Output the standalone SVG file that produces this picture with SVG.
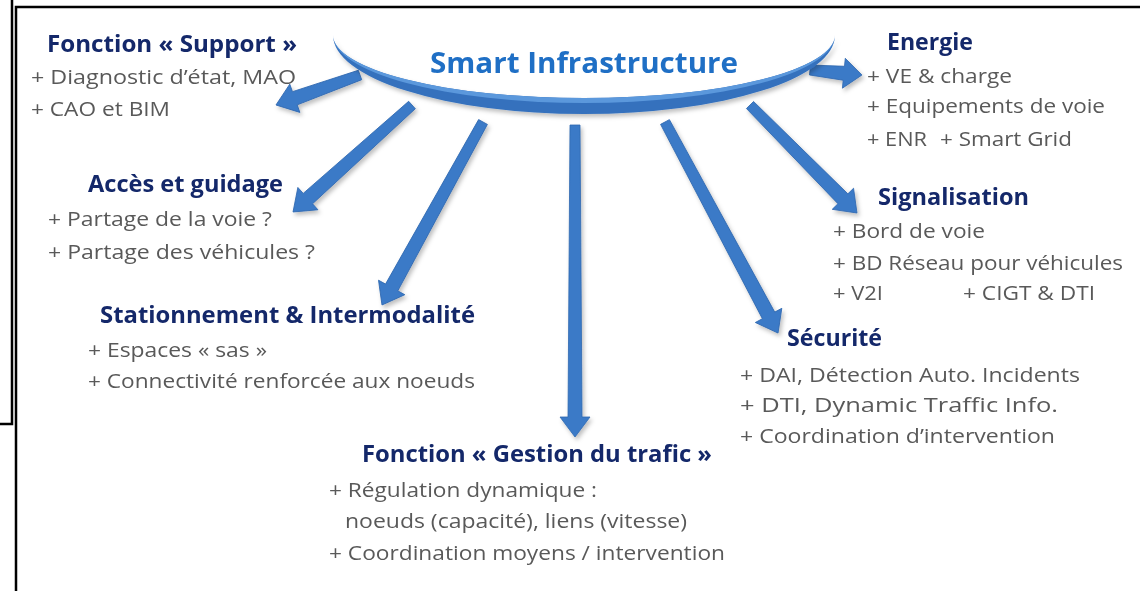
<svg xmlns="http://www.w3.org/2000/svg" width="1140" height="591" viewBox="0 0 1140 591">
<style>
.h{font-family:"Open Sans","Liberation Sans",sans-serif;font-weight:bold;font-size:22.5px;fill:#14286a}
.b{font-family:"Open Sans","Liberation Sans",sans-serif;font-size:20px;fill:#595959}
.t{font-family:"Open Sans","Liberation Sans",sans-serif;font-weight:bold;font-size:28.5px;fill:#1f6fc5}
.arr{fill:#3b7ac7;stroke:#2f68b0;stroke-width:0.8}
.frame{fill:none;stroke:#000;stroke-width:2.5}
</style>
<defs>
<filter id="sh" x="-20%" y="-20%" width="140%" height="140%">
<feDropShadow dx="2" dy="3" stdDeviation="2" flood-color="#000" flood-opacity="0.25"/>
</filter>
</defs>
<rect width="1140" height="591" fill="#fff"/>
<path class="frame" d="M12,0 V424 H0"/>
<path class="frame" d="M1141,7 H16 V592"/>

<g id="connectors" filter="url(#sh)">
<path class="arr" transform="translate(360,75) rotate(160.35)" d="M0,-5 L69.2,-7 L69.2,-15 L89.2,0 L69.2,15 L69.2,7 L0,5 Z"/>
<path class="arr" transform="translate(412,105) rotate(138.04)" d="M0,-5 L140,-7 L140,-15 L160,0 L140,15 L140,7 L0,5 Z"/>
<path class="arr" transform="translate(483,122) rotate(118.9)" d="M0,-5 L189,-7 L189,-15 L209,0 L189,15 L189,7 L0,5 Z"/>
<path class="arr" transform="translate(575,125) rotate(90)" d="M0,-5 L292,-7 L292,-15 L312,0 L292,15 L292,7 L0,5 Z"/>
<path class="arr" transform="translate(665,122) rotate(61.83)" d="M0,-5 L219.4,-7 L219.4,-15 L239.4,0 L219.4,15 L219.4,7 L0,5 Z"/>
<path class="arr" transform="translate(750,105) rotate(45.27)" d="M0,-5 L132,-7 L132,-15 L152,0 L132,15 L132,7 L0,5 Z"/>
<path class="arr" transform="translate(810,70) rotate(5.49)" d="M0,-5 L34,-7 L34,-15 L52.2,0 L34,15 L34,7 L0,5 Z"/>
</g>

<g id="hub">
<path d="M333,35 A251,63 0 0 0 835,35 A251,79 0 0 1 333,35 Z" fill="#3571bd" filter="url(#sh)"/>
<path d="M333,35 A251,63 0 0 0 835,35 A251,68 0 0 1 333,35 Z" fill="#5b98dc"/>
<text class="t" x="430" y="73" textLength="308" lengthAdjust="spacingAndGlyphs">Smart Infrastructure</text>
</g>

<g id="support">
<text class="h" x="47" y="52" textLength="250" lengthAdjust="spacingAndGlyphs">Fonction « Support »</text>
<text class="b" x="31" y="84" textLength="265" lengthAdjust="spacingAndGlyphs">+ Diagnostic d’état, MAO</text>
<text class="b" x="31" y="116" textLength="139" lengthAdjust="spacingAndGlyphs">+ CAO et BIM</text>
</g>

<g id="acces">
<text class="h" x="88" y="192" textLength="195" lengthAdjust="spacingAndGlyphs">Accès et guidage</text>
<text class="b" x="48" y="226" textLength="224" lengthAdjust="spacingAndGlyphs">+ Partage de la voie ?</text>
<text class="b" x="48" y="259" textLength="267" lengthAdjust="spacingAndGlyphs">+ Partage des véhicules ?</text>
</g>

<g id="stationnement">
<text class="h" x="100" y="323" textLength="375" lengthAdjust="spacingAndGlyphs">Stationnement &amp; Intermodalité</text>
<text class="b" x="88" y="357" textLength="179" lengthAdjust="spacingAndGlyphs">+ Espaces « sas »</text>
<text class="b" x="88" y="388" textLength="387" lengthAdjust="spacingAndGlyphs">+ Connectivité renforcée aux noeuds</text>
</g>

<g id="gestion">
<text class="h" x="362" y="462" textLength="350" lengthAdjust="spacingAndGlyphs">Fonction « Gestion du trafic »</text>
<text class="b" x="329" y="497" textLength="268" lengthAdjust="spacingAndGlyphs">+ Régulation dynamique :</text>
<text class="b" x="345" y="528" textLength="342" lengthAdjust="spacingAndGlyphs">noeuds (capacité), liens (vitesse)</text>
<text class="b" x="329" y="560" textLength="396" lengthAdjust="spacingAndGlyphs">+ Coordination moyens / intervention</text>
</g>

<g id="energie">
<text class="h" x="887" y="50" textLength="86" lengthAdjust="spacingAndGlyphs">Energie</text>
<text class="b" x="867" y="83" textLength="145" lengthAdjust="spacingAndGlyphs">+ VE &amp; charge</text>
<text class="b" x="867" y="113" textLength="238" lengthAdjust="spacingAndGlyphs">+ Equipements de voie</text>
<text class="b" x="867" y="146" textLength="60" lengthAdjust="spacingAndGlyphs">+ ENR</text>
<text class="b" x="940" y="146" textLength="132" lengthAdjust="spacingAndGlyphs">+ Smart Grid</text>
</g>

<g id="signalisation">
<text class="h" x="878" y="205" textLength="151" lengthAdjust="spacingAndGlyphs">Signalisation</text>
<text class="b" x="833" y="238" textLength="152" lengthAdjust="spacingAndGlyphs">+ Bord de voie</text>
<text class="b" x="833" y="270" textLength="290" lengthAdjust="spacingAndGlyphs">+ BD Réseau pour véhicules</text>
<text class="b" x="833" y="300" textLength="50" lengthAdjust="spacingAndGlyphs">+ V2I</text>
<text class="b" x="963" y="300" textLength="132" lengthAdjust="spacingAndGlyphs">+ CIGT &amp; DTI</text>
</g>

<g id="securite">
<text class="h" x="787" y="346" textLength="95" lengthAdjust="spacingAndGlyphs">Sécurité</text>
<text class="b" x="740" y="382" textLength="340" lengthAdjust="spacingAndGlyphs">+ DAI, Détection Auto. Incidents</text>
<text class="b" x="740" y="412" textLength="318" lengthAdjust="spacingAndGlyphs">+ DTI, Dynamic Traffic Info.</text>
<text class="b" x="740" y="443" textLength="315" lengthAdjust="spacingAndGlyphs">+ Coordination d’intervention</text>
</g>
</svg>
